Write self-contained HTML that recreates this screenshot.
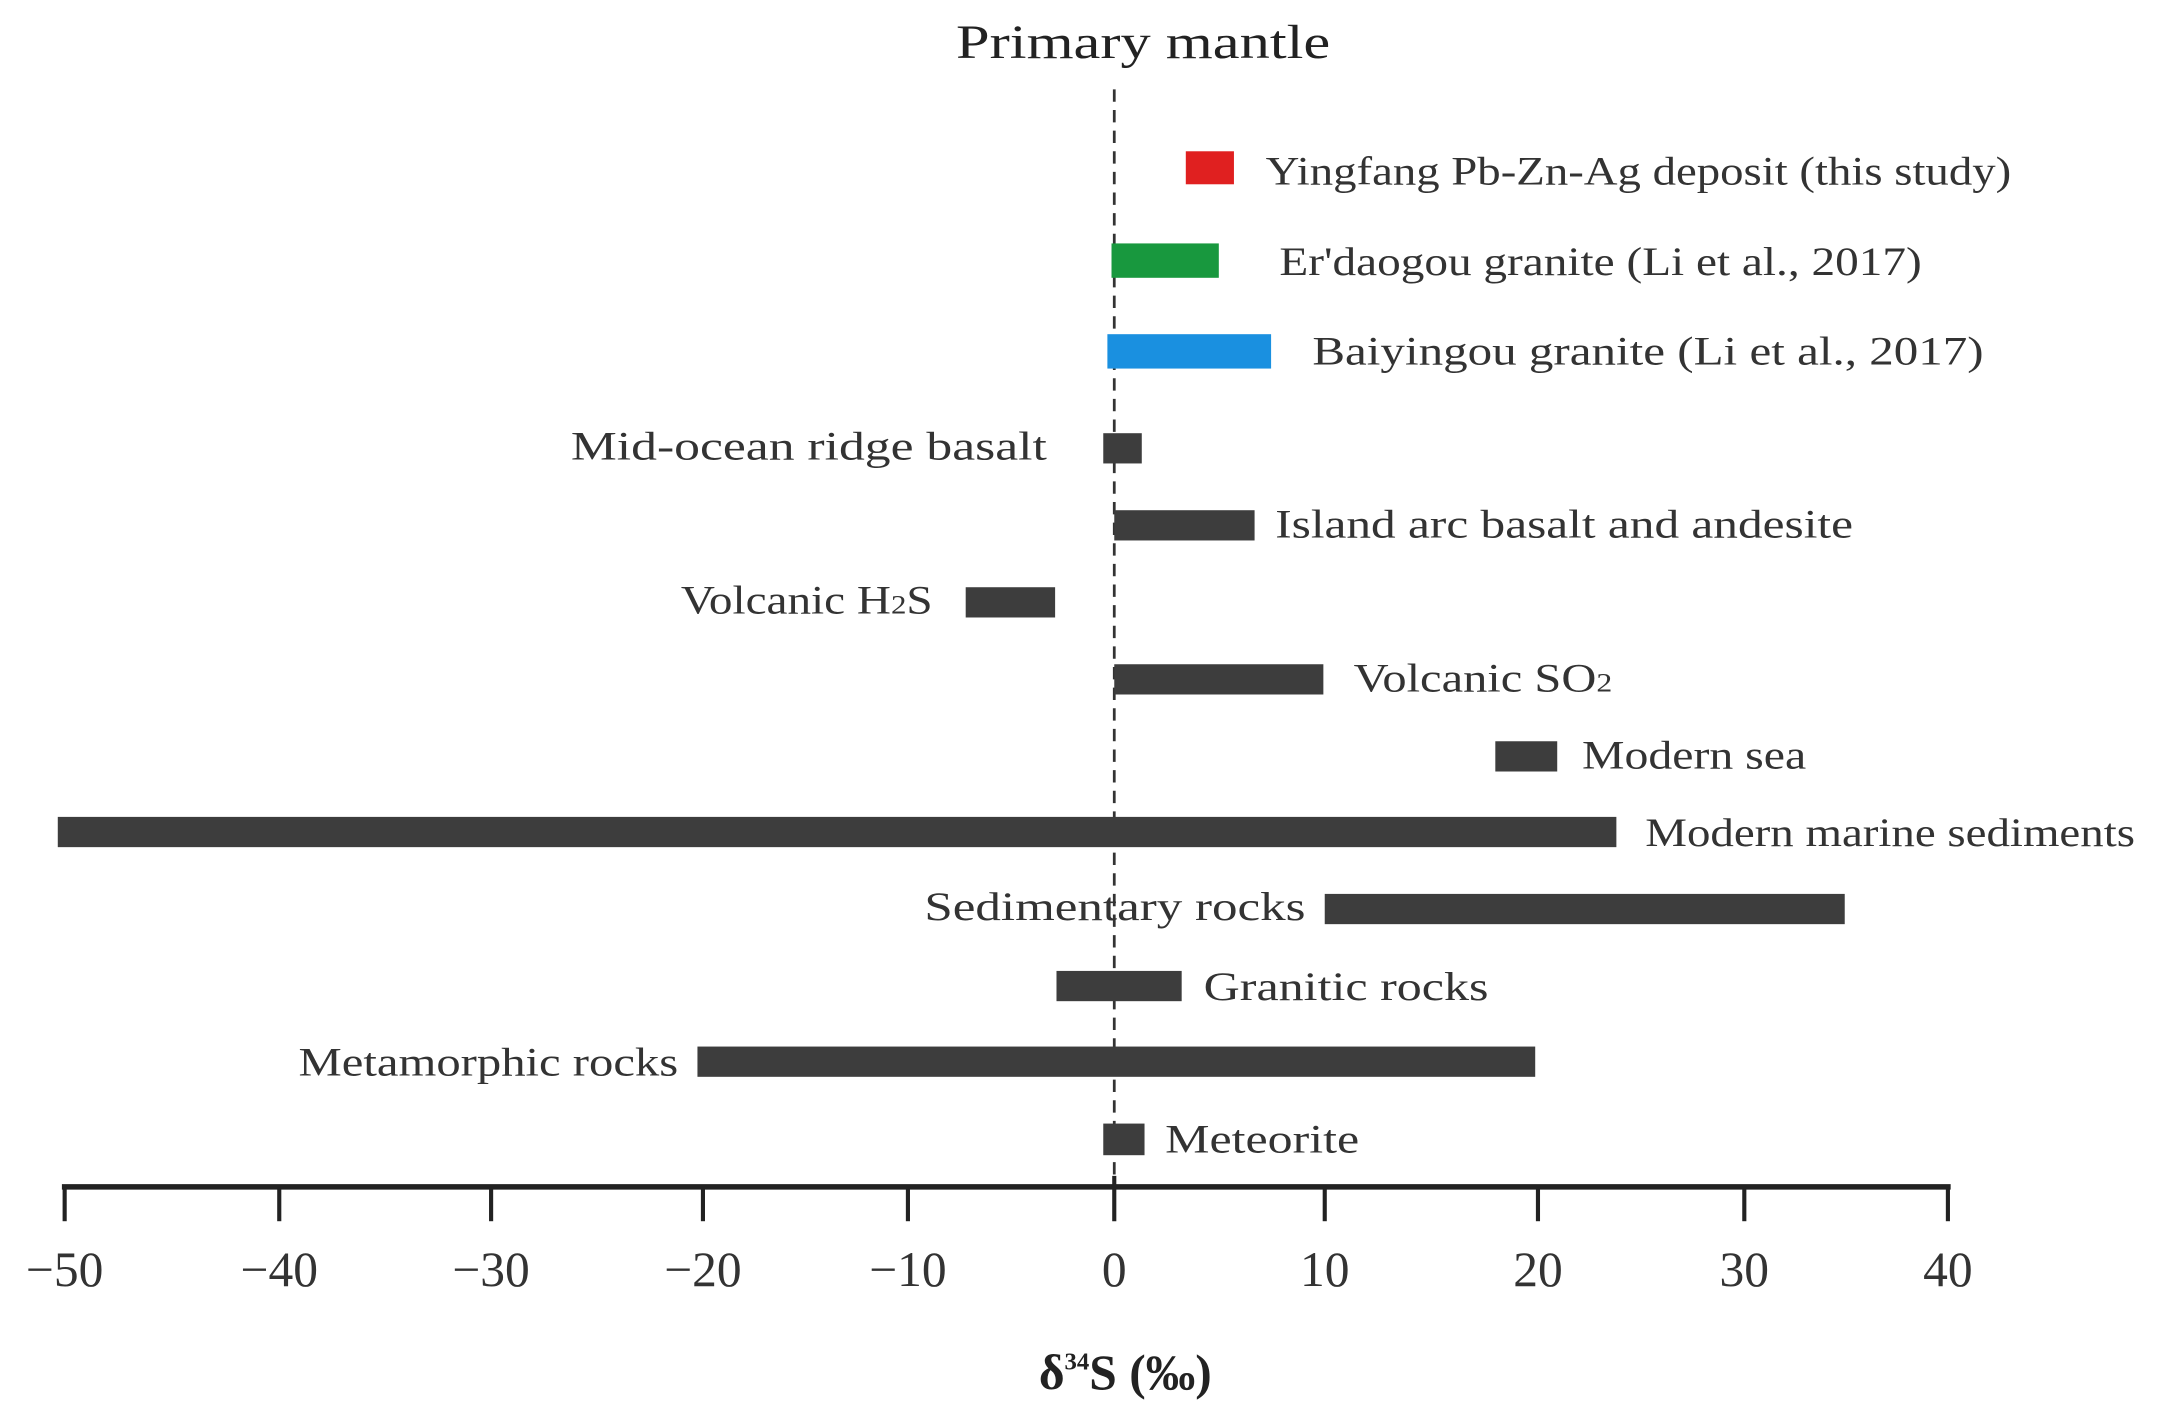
<!DOCTYPE html>
<html><head><meta charset="utf-8"><style>html,body{margin:0;padding:0;background:#fff}svg{display:block}</style></head>
<body>
<svg width="2157" height="1422" viewBox="0 0 1568 1034" preserveAspectRatio="none" xmlns="http://www.w3.org/2000/svg" font-family="Liberation Serif, serif" fill="#333">
<text x="695" y="42" font-size="35" textLength="272" lengthAdjust="spacingAndGlyphs" fill="#222">Primary mantle</text>
<line x1="810" y1="65" x2="810" y2="862" stroke="#333" stroke-width="2" stroke-dasharray="9,6"/>
<rect x="862" y="110" width="35" height="24" fill="#e02020"/>
<rect x="808" y="177" width="78" height="25" fill="#18983e"/>
<rect x="805" y="243" width="119" height="25" fill="#1a90e0"/>
<g fill="#3d3d3d">
<rect x="802" y="315" width="28" height="22"/>
<rect x="810" y="371" width="102" height="22"/>
<rect x="702" y="427" width="65" height="22"/>
<rect x="810" y="483" width="152" height="22"/>
<rect x="1087" y="539" width="45" height="22"/>
<rect x="42" y="594" width="1133" height="22"/>
<rect x="963" y="650" width="378" height="22"/>
<rect x="768" y="706" width="91" height="22"/>
<rect x="507" y="761" width="609" height="22"/>
<rect x="802" y="817" width="30" height="23"/>
</g>
<g font-size="29" fill="#333">
<text x="920" y="134" textLength="542" lengthAdjust="spacingAndGlyphs">Yingfang Pb-Zn-Ag deposit (this study)</text>
<text x="930" y="200" textLength="467" lengthAdjust="spacingAndGlyphs">Er'daogou granite (Li et al., 2017)</text>
<text x="954" y="265" textLength="488" lengthAdjust="spacingAndGlyphs">Baiyingou granite  (Li et al., 2017)</text>
<text x="415" y="334" textLength="346" lengthAdjust="spacingAndGlyphs">Mid-ocean ridge basalt</text>
<text x="927" y="391" textLength="420" lengthAdjust="spacingAndGlyphs">Island arc basalt and andesite</text>
<text x="495" y="446" textLength="183" lengthAdjust="spacingAndGlyphs">Volcanic H<tspan font-size="19">2</tspan>S</text>
<text x="984" y="503" textLength="188" lengthAdjust="spacingAndGlyphs">Volcanic SO<tspan font-size="19">2</tspan></text>
<text x="1150" y="559" textLength="163" lengthAdjust="spacingAndGlyphs">Modern sea</text>
<text x="1196" y="615" textLength="356" lengthAdjust="spacingAndGlyphs">Modern marine sediments</text>
<text x="672" y="669" textLength="277" lengthAdjust="spacingAndGlyphs">Sedimentary rocks</text>
<text x="875" y="727" textLength="207" lengthAdjust="spacingAndGlyphs">Granitic rocks</text>
<text x="217" y="782" textLength="276" lengthAdjust="spacingAndGlyphs">Metamorphic rocks</text>
<text x="847" y="838" textLength="141" lengthAdjust="spacingAndGlyphs">Meteorite</text>
</g>
<line x1="45" y1="863" x2="1418" y2="863" stroke="#222" stroke-width="4"/>
<g stroke="#222" stroke-width="3">
<line x1="47" y1="863" x2="47" y2="888"/><line x1="203" y1="863" x2="203" y2="888"/>
<line x1="357" y1="863" x2="357" y2="888"/><line x1="511" y1="863" x2="511" y2="888"/>
<line x1="660" y1="863" x2="660" y2="888"/><line x1="810" y1="855" x2="810" y2="888"/>
<line x1="963" y1="863" x2="963" y2="888"/><line x1="1118" y1="863" x2="1118" y2="888"/>
<line x1="1268" y1="863" x2="1268" y2="888"/><line x1="1416" y1="863" x2="1416" y2="888"/>
</g>
<g font-size="36" text-anchor="middle" fill="#333">
<text x="47" y="935">−50</text><text x="203" y="935">−40</text><text x="357" y="935">−30</text>
<text x="511" y="935">−20</text><text x="660" y="935">−10</text><text x="810" y="935">0</text>
<text x="963" y="935">10</text><text x="1118" y="935">20</text><text x="1268" y="935">30</text><text x="1416" y="935">40</text>
</g>
<text x="818" y="1010" font-size="36" font-weight="bold" text-anchor="middle" fill="#222">δ<tspan font-size="18" dy="-14">34</tspan><tspan dy="14">S (‰)</tspan></text>
</svg>
</body></html>
